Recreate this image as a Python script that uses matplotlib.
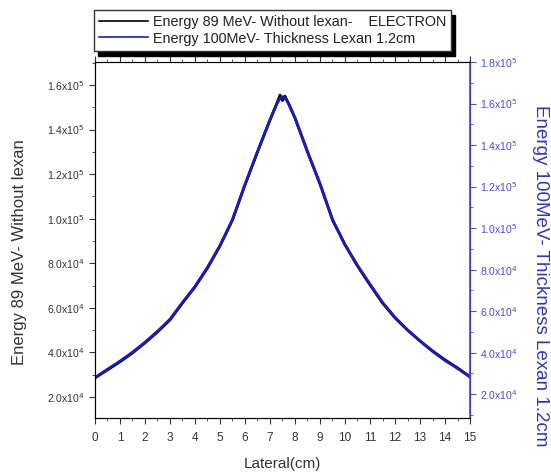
import matplotlib
matplotlib.use('Agg')
from matplotlib import pyplot as plt
from matplotlib.ticker import MultipleLocator, FuncFormatter

plt.rcParams['font.family'] = ['Liberation Sans', 'DejaVu Sans']

# lateral position (cm)
lateral = [0, 0.5, 1, 1.5, 2, 2.5, 3, 3.5, 4, 4.5, 5, 5.5, 6, 6.5, 7, 7.25,
           7.4, 7.5, 7.6, 7.75, 8, 8.5, 9, 9.5, 10, 10.5, 11, 11.5, 12, 12.5,
           13, 13.5, 14, 14.5, 15]

# 89 MeV electron, no lexan (left axis)
dose_89 = [28.6e3, 32.2e3, 35.8e3, 39.8e3, 44.3e3, 49.2e3, 54.6e3, 62.2e3,
           69.4e3, 77.9e3, 87.8e3, 99.5e3, 115.2e3, 130.0e3, 144.3e3, 151.0e3,
           155.5e3, 153.0e3, 155.0e3, 151.5e3, 145.2e3, 130.0e3, 115.6e3,
           99.5e3, 88.3e3, 78.8e3, 70.3e3, 62.2e3, 55.5e3, 50.1e3, 45.2e3,
           40.7e3, 36.7e3, 33.1e3, 29.1e3]

# 100 MeV electron, 1.2 cm lexan (right axis)
dose_100 = [28.0e3, 32.0e3, 35.9e3, 40.2e3, 45.0e3, 50.3e3, 56.1e3, 64.2e3,
            71.9e3, 81.1e3, 91.6e3, 104.1e3, 121.0e3, 136.8e3, 152.2e3,
            159.4e3, 162.5e3, 163.3e3, 162.8e3, 159.8e3, 153.0e3, 136.8e3,
            121.4e3, 104.1e3, 92.0e3, 82.0e3, 73.0e3, 64.2e3, 57.0e3, 50.9e3,
            45.6e3, 40.6e3, 36.2e3, 32.4e3, 28.3e3]

blue = '#1c1cb0'
axis_blue = '#4a4ad6'
grey = '#333333'


def sci(v, pos):
    if v == 0:
        return '0'
    e = 0
    m = v
    while abs(m) >= 10:
        m = m / 10
        e += 1
    return '%.1fx10$^{%d}$' % (m, e)


fig = plt.figure(figsize=(5.51, 4.76), dpi=100)
ax = fig.add_axes([0.1724, 0.1218, 0.6806, 0.7479])
ax2 = ax.twinx()

l1, = ax.plot(lateral, dose_89, color='black', lw=2)
l2, = ax2.plot(lateral, dose_100, color=blue, lw=2)

ax.set_xlim(0, 15)
ax.set_ylim(10.6e3, 170.3e3)
ax2.set_ylim(8.5e3, 180e3)

ax.xaxis.set_major_locator(MultipleLocator(1))
ax.xaxis.set_minor_locator(MultipleLocator(0.5))
ax.yaxis.set_major_locator(MultipleLocator(2e4))
ax.yaxis.set_minor_locator(MultipleLocator(1e4))
ax2.yaxis.set_major_locator(MultipleLocator(2e4))
ax2.yaxis.set_minor_locator(MultipleLocator(1e4))
ax.yaxis.set_major_formatter(FuncFormatter(sci))
ax2.yaxis.set_major_formatter(FuncFormatter(sci))

ax.tick_params(axis='x', which='both', top=True, direction='out',
               labelsize=8.5, colors=grey, pad=6)
ax.tick_params(axis='x', which='major', length=4)
ax.tick_params(axis='x', which='minor', length=2.5)
ax.tick_params(axis='y', which='major', length=4, labelsize=7.5,
               colors=grey)
ax.tick_params(axis='y', which='minor', length=2.5, colors=grey)
ax2.tick_params(axis='y', which='major', length=4, labelsize=7.5,
                colors=axis_blue)
ax2.tick_params(axis='y', which='minor', length=2.5, colors=axis_blue)

for s in ['left', 'bottom', 'top']:
    ax.spines[s].set_color(grey)
ax2.spines['right'].set_color(axis_blue)
ax2.spines['right'].set_linewidth(1.2)

ax.set_xlabel('Lateral(cm)', fontsize=11, color=grey)
ax.xaxis.set_label_coords(0.5, -0.11)
ax.set_ylabel('Energy 89 MeV- Without lexan', fontsize=12, color=grey)
ax.yaxis.set_label_coords(-0.18, 0.466)
ax2.set_ylabel('Energy 100MeV- Thickness Lexan 1.2cm', fontsize=13.5,
               color='#3535b5', rotation=-90, va='center')
ax2.yaxis.set_label_coords(1.187, 0.40)

leg = fig.legend([l1, l2],
                 ['Energy 89 MeV- Without lexan-    ELECTRON',
                  'Energy 100MeV- Thickness Lexan 1.2cm'],
                 loc='upper left', bbox_to_anchor=(0.158, 0.995),
                 fontsize=10.4, handlelength=3.4, handletextpad=0.3,
                 borderpad=0.35, labelspacing=0.2, fancybox=False,
                 edgecolor=grey, framealpha=1,
                 shadow={'color': 'black', 'alpha': 1, 'ox': 3, 'oy': -4})
for h in leg.get_lines():
    h.set_linewidth(1.2)
for t in leg.get_texts():
    t.set_color('#222222')

fig.savefig('out.png', dpi=100)
